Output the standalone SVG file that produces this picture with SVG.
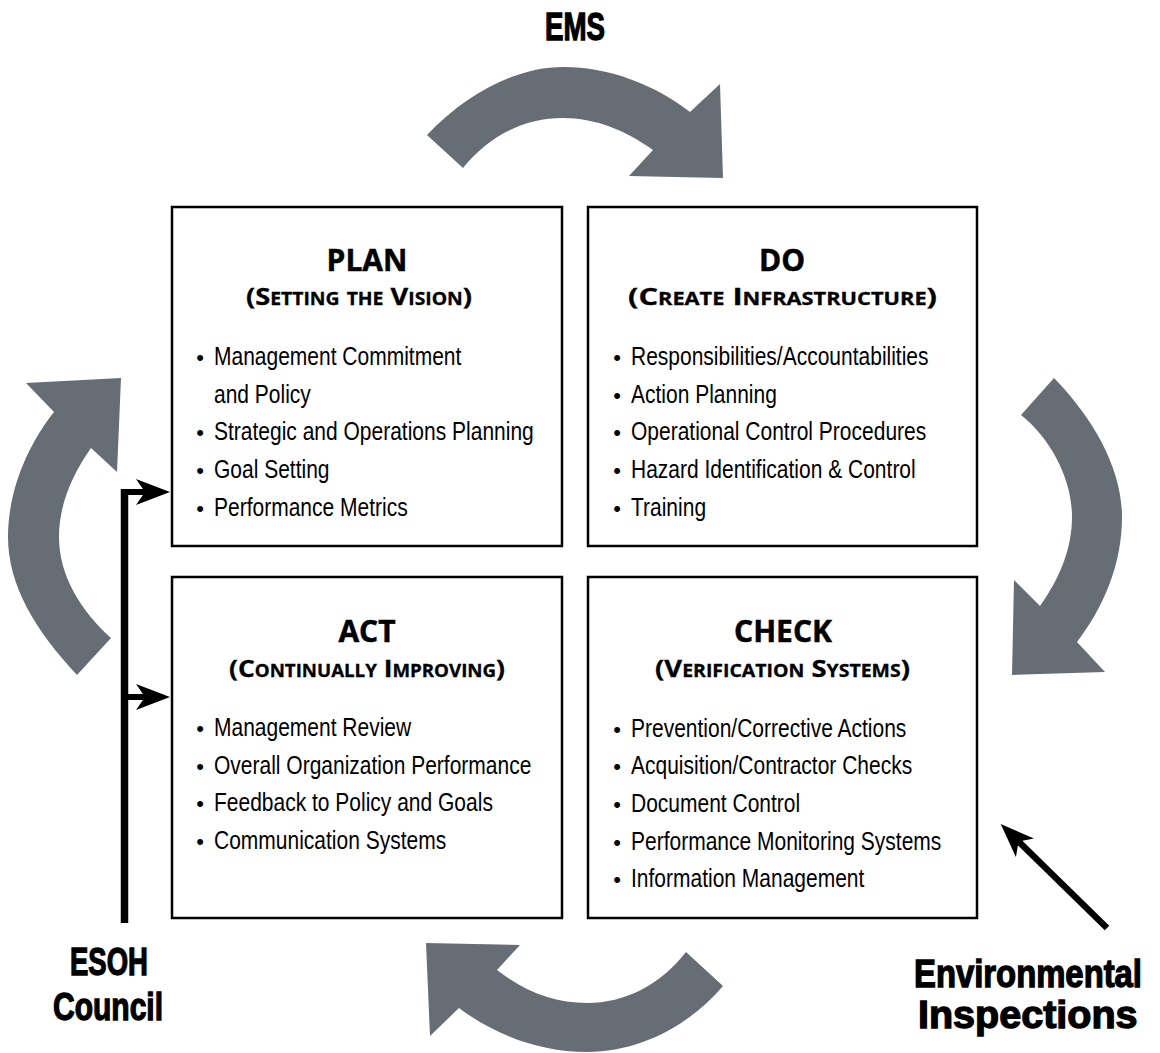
<svg xmlns="http://www.w3.org/2000/svg" width="1160" height="1053" viewBox="0 0 1160 1053">
<style>
.box{fill:#fff;stroke:#000;stroke-width:2.5}
.cyc{fill:#676d75}
.ttl{font-family:"Open Sans","Liberation Sans",sans-serif;font-weight:bold;font-size:30px;text-anchor:middle;fill:#000;stroke:#000;stroke-width:0.5}
.sub{font-family:"Open Sans","Liberation Sans",sans-serif;font-weight:bold;font-size:24px;font-variant:small-caps;fill:#000;stroke:#000;stroke-width:0.3}
.b{font-family:"Liberation Sans",Arial,sans-serif;font-size:25px;fill:#000}
.dot{font-family:"Liberation Sans",Arial,sans-serif;font-size:22px;text-anchor:middle;fill:#000}
.big{font-family:"Liberation Sans",Arial,sans-serif;font-weight:bold;font-size:38px;fill:#000;stroke:#000;stroke-width:1.3}
.con{fill:none;stroke:#000}
</style>
<defs>
<marker id="ah" viewBox="0 0 34 26" refX="14" refY="13" markerWidth="34" markerHeight="26" markerUnits="userSpaceOnUse" orient="auto">
<path d="M0,0 L34,13 L0,26 L9,13 Z" fill="#000"/>
</marker>
</defs>
<rect width="1160" height="1053" fill="#fff"/>

<g id="cycle">
<path class="cyc" d="M427,135 C470,90 520,67 563,67 C610,67 655,85 690,112 L720,84 L723,178 L629,176 L653,150 C625,130 595,118 563,118 C525,118 490,135 463,168 Z"/>
<path class="cyc" d="M1054,378 C1095,420 1122,470 1122,517 C1122,565 1103,608 1077,642 L1105,672 L1012,675 L1014,580 L1040,606 C1060,578 1072,548 1072,517 C1072,480 1052,440 1021,415 Z"/>
<path class="cyc" d="M723,986 C690,1025 640,1052 587,1052 C540,1052 495,1035 459,1008 L430,1036 L426,943 L520,945 L497,970 C525,992 555,1003 587,1003 C625,1003 660,985 686,952 Z"/>
<path class="cyc" d="M77,675 C35,630 8,585 8,537 C8,490 28,445 54,412 L26,383 L121,378 L117,472 L91,448 C72,475 59,505 59,537 C59,575 80,610 111,638 Z"/>
</g>

<g id="ems-title">
<text class="big" transform="translate(545,40) scale(0.729,1)">EMS</text>
</g>

<g id="plan">
<rect class="box" x="172" y="207" width="390" height="339"/>
<text class="ttl" x="367" y="271">PLAN</text>
<text class="sub" x="246" y="305" textLength="226" lengthAdjust="spacingAndGlyphs">(Setting the Vision)</text>
<text class="dot" x="200" y="365">•</text>
<text class="b" transform="translate(214,365) scale(0.84,1)">Management Commitment</text>
<text class="b" transform="translate(214,403) scale(0.84,1)">and Policy</text>
<text class="dot" x="200" y="440">•</text>
<text class="b" transform="translate(214,440) scale(0.84,1)">Strategic and Operations Planning</text>
<text class="dot" x="200" y="478">•</text>
<text class="b" transform="translate(214,478) scale(0.84,1)">Goal Setting</text>
<text class="dot" x="200" y="516">•</text>
<text class="b" transform="translate(214,516) scale(0.84,1)">Performance Metrics</text>
</g>

<g id="do">
<rect class="box" x="588" y="207" width="389" height="339"/>
<text class="ttl" x="782" y="271">DO</text>
<text class="sub" x="628" y="305" textLength="309" lengthAdjust="spacingAndGlyphs">(Create Infrastructure)</text>
<text class="dot" x="617" y="365">•</text>
<text class="b" transform="translate(631,365) scale(0.84,1)">Responsibilities/Accountabilities</text>
<text class="dot" x="617" y="403">•</text>
<text class="b" transform="translate(631,403) scale(0.84,1)">Action Planning</text>
<text class="dot" x="617" y="440">•</text>
<text class="b" transform="translate(631,440) scale(0.84,1)">Operational Control Procedures</text>
<text class="dot" x="617" y="478">•</text>
<text class="b" transform="translate(631,478) scale(0.84,1)">Hazard Identification &amp; Control</text>
<text class="dot" x="617" y="516">•</text>
<text class="b" transform="translate(631,516) scale(0.84,1)">Training</text>
</g>

<g id="act">
<rect class="box" x="172" y="577" width="390" height="341"/>
<text class="ttl" x="367" y="642">ACT</text>
<text class="sub" x="229" y="677" textLength="276" lengthAdjust="spacingAndGlyphs">(Continually Improving)</text>
<text class="dot" x="200" y="736">•</text>
<text class="b" transform="translate(214,736) scale(0.84,1)">Management Review</text>
<text class="dot" x="200" y="774">•</text>
<text class="b" transform="translate(214,774) scale(0.84,1)">Overall Organization Performance</text>
<text class="dot" x="200" y="811">•</text>
<text class="b" transform="translate(214,811) scale(0.84,1)">Feedback to Policy and Goals</text>
<text class="dot" x="200" y="849">•</text>
<text class="b" transform="translate(214,849) scale(0.84,1)">Communication Systems</text>
</g>

<g id="check">
<rect class="box" x="588" y="577" width="389" height="341"/>
<text class="ttl" x="783" y="642">CHECK</text>
<text class="sub" x="655" y="677" textLength="255" lengthAdjust="spacingAndGlyphs">(Verification Systems)</text>
<text class="dot" x="617" y="737">•</text>
<text class="b" transform="translate(631,737) scale(0.84,1)">Prevention/Corrective Actions</text>
<text class="dot" x="617" y="774">•</text>
<text class="b" transform="translate(631,774) scale(0.84,1)">Acquisition/Contractor Checks</text>
<text class="dot" x="617" y="812">•</text>
<text class="b" transform="translate(631,812) scale(0.84,1)">Document Control</text>
<text class="dot" x="617" y="850">•</text>
<text class="b" transform="translate(631,850) scale(0.84,1)">Performance Monitoring Systems</text>
<text class="dot" x="617" y="887">•</text>
<text class="b" transform="translate(631,887) scale(0.84,1)">Information Management</text>
</g>

<g id="esoh-council">
<text class="big" transform="translate(70,975) scale(0.724,1)">ESOH</text>
<text class="big" transform="translate(53,1020) scale(0.79,1)">Council</text>
</g>

<g id="environmental-inspections">
<text class="big" transform="translate(914,987) scale(0.864,1)">Environmental</text>
<text class="big" transform="translate(918,1028) scale(1.04,1)">Inspections</text>
</g>

<g id="connectors">
<path class="con" d="M124.5,923 V489" stroke-width="7.5"/>
<path class="con" d="M121,492 H150" stroke-width="6" marker-end="url(#ah)"/>
<path class="con" d="M121,697 H150" stroke-width="6" marker-end="url(#ah)"/>
<path class="con" d="M1107,928 L1015,838" stroke-width="6.5" marker-end="url(#ah)"/>
</g>
</svg>
